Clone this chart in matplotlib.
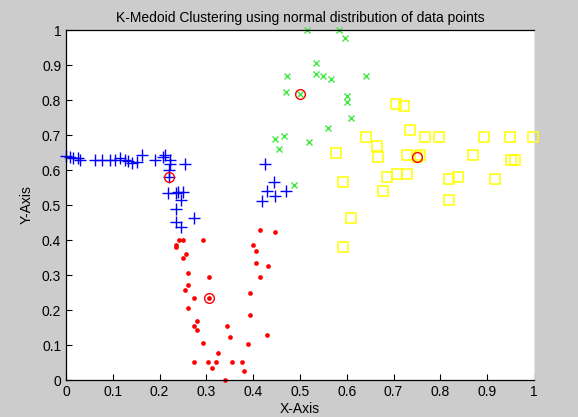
import matplotlib
matplotlib.use("Agg")
import matplotlib.pyplot as plt

plt.rcParams['font.family'] = ['Liberation Sans', 'DejaVu Sans']

# cluster 1 (blue +)
blue_x = [0.000, 0.008, 0.016, 0.025, 0.030, 0.062, 0.076, 0.094, 0.105, 0.115,
          0.125, 0.133, 0.142, 0.151, 0.163, 0.190, 0.207, 0.212, 0.222, 0.222,
          0.219, 0.254, 0.219, 0.218, 0.236, 0.240, 0.249, 0.245, 0.235, 0.274,
          0.236, 0.245, 0.426, 0.445, 0.430, 0.470, 0.447, 0.418]
blue_y = [0.640, 0.638, 0.635, 0.633, 0.630, 0.629, 0.630, 0.630, 0.630, 0.633,
          0.628, 0.626, 0.620, 0.624, 0.643, 0.629, 0.638, 0.643, 0.629, 0.617,
          0.600, 0.616, 0.579, 0.533, 0.535, 0.538, 0.538, 0.514, 0.488, 0.462,
          0.452, 0.436, 0.616, 0.567, 0.541, 0.541, 0.526, 0.512]

# cluster 2 (red dots)
red_x = [0.242, 0.249, 0.292, 0.235, 0.235, 0.256, 0.249, 0.261, 0.306, 0.261,
         0.254, 0.274, 0.306, 0.261, 0.279, 0.274, 0.279, 0.343, 0.292, 0.350,
         0.325, 0.274, 0.304, 0.321, 0.355, 0.375, 0.311, 0.380, 0.339, 0.415,
         0.447, 0.400, 0.407, 0.407, 0.432, 0.415, 0.393, 0.393, 0.430, 0.389]
red_y = [0.400, 0.400, 0.400, 0.386, 0.379, 0.360, 0.348, 0.305, 0.295, 0.272,
         0.257, 0.233, 0.233, 0.207, 0.170, 0.154, 0.143, 0.154, 0.105, 0.122,
         0.078, 0.052, 0.052, 0.052, 0.052, 0.052, 0.035, 0.026, 0.000, 0.429,
         0.423, 0.386, 0.369, 0.333, 0.327, 0.295, 0.250, 0.187, 0.130, 0.104]

# cluster 3 (green x)
green_x = [0.516, 0.584, 0.596, 0.534, 0.472, 0.534, 0.550, 0.566, 0.642, 0.470,
           0.501, 0.600, 0.600, 0.610, 0.559, 0.447, 0.465, 0.456, 0.520, 0.488]
green_y = [1.000, 1.000, 0.976, 0.907, 0.869, 0.874, 0.869, 0.859, 0.869, 0.822,
           0.817, 0.811, 0.795, 0.750, 0.719, 0.688, 0.698, 0.661, 0.681, 0.558]

# cluster 4 (yellow squares)
yellow_x = [0.706, 0.722, 0.734, 0.641, 0.768, 0.798, 0.894, 0.949, 0.997, 0.664,
            0.577, 0.667, 0.729, 0.756, 0.869, 0.950, 0.959, 0.685, 0.708, 0.728,
            0.818, 0.837, 0.917, 0.591, 0.678, 0.818, 0.610, 0.591, 0.751]
yellow_y = [0.790, 0.784, 0.714, 0.693, 0.693, 0.693, 0.693, 0.693, 0.693, 0.670,
            0.650, 0.638, 0.643, 0.643, 0.643, 0.629, 0.629, 0.579, 0.590, 0.590,
            0.573, 0.579, 0.573, 0.567, 0.541, 0.514, 0.462, 0.379, 0.636]

# medoids
med_x = [0.219, 0.306, 0.501, 0.751]
med_y = [0.579, 0.233, 0.817, 0.636]

ticks = [i / 10 for i in range(11)]
tick_labels = ['0', '0.1', '0.2', '0.3', '0.4', '0.5', '0.6', '0.7', '0.8', '0.9', '1']

fig = plt.figure(figsize=(5.78, 4.17), dpi=100, facecolor='#cccccc')
ax = fig.add_axes([0.1142, 0.0887, 0.8097, 0.8393])

ax.plot(blue_x, blue_y, '+', color='#0000ff', ms=8, mew=1.0, ls='none', clip_on=False)
ax.plot(red_x, red_y, 'o', color='#ff0000', ms=3.4, mew=0, ls='none', clip_on=False)
ax.plot(green_x, green_y, 'x', color='#3ee83e', ms=4.2, mew=1.0, ls='none', clip_on=False)
ax.plot(yellow_x, yellow_y, 's', mfc='none', mec='#ffff00', ms=6.6, mew=1.1, ls='none', clip_on=False)
ax.plot(med_x, med_y, 'o', mfc='none', mec='#ff0000', ms=7, mew=1.0, ls='none', clip_on=False)

ax.set_xlim(0, 1)
ax.set_ylim(0, 1)
ax.set_xticks(ticks)
ax.set_xticklabels(tick_labels)
ax.set_yticks(ticks)
ax.set_yticklabels(tick_labels)
ax.tick_params(direction='in', length=4, width=0.8, labelsize=10, top=False, right=False)
for s in ['left', 'bottom', 'top']:
    ax.spines[s].set_linewidth(0.9)
ax.spines['right'].set_color('#e6e6e6')

ax.set_title('K-Medoid Clustering using normal distribution of data points', fontsize=10, pad=6)
ax.set_xlabel('X-Axis', fontsize=10, labelpad=2)
ax.set_ylabel('Y-Axis', fontsize=10, labelpad=6)

fig.savefig('out.png', dpi=100, facecolor=fig.get_facecolor())
